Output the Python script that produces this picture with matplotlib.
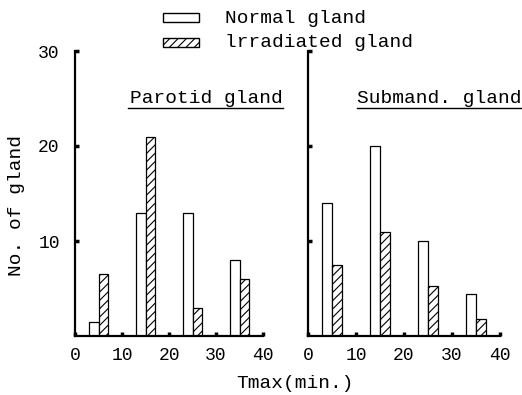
import matplotlib.pyplot as plt
from matplotlib.patches import Rectangle
from matplotlib.lines import Line2D

plt.rcParams['font.family'] = ['Liberation Mono', 'DejaVu Sans Mono']
plt.rcParams['hatch.linewidth'] = 0.8

# Tmax bins (min.)
tmax = [5, 15, 25, 35]
parotid_normal = [1.5, 13, 13, 8]
parotid_irr = [6.5, 21, 3, 6]
submand_normal = [14, 20, 10, 4.4]
submand_irr = [7.5, 11, 5.3, 1.8]

W, H = 522, 395
fig = plt.figure(figsize=(W / 100, H / 100), dpi=100)

def px(x, y):
    return x / W, 1 - y / H

bw = 2.1

def panel(left, width, normal, irr, ylabels):
    ax = fig.add_axes([left / W, 59 / H, width / W, 285 / H])
    ax.bar([t - bw for t in tmax], normal, width=bw, align='edge',
           color='white', edgecolor='black', linewidth=0.9)
    ax.bar(tmax, irr, width=bw, align='edge', color='white',
           edgecolor='black', hatch='////', linewidth=0.9)
    ax.set_xlim(0, 40)
    ax.set_ylim(0, 30)
    for s in ['top', 'right']:
        ax.spines[s].set_visible(False)
    for s in ['left', 'bottom']:
        ax.spines[s].set_linewidth(1.6)
    ax.set_xticks([0, 10, 20, 30, 40])
    ax.set_yticks([10, 20, 30])
    ax.tick_params(axis='both', direction='in', length=3, width=2.5, labelsize=13)
    ax.tick_params(axis='x', pad=8)
    ax.tick_params(axis='y', pad=11)
    if not ylabels:
        ax.set_yticklabels([])
    return ax

panel(75, 188, parotid_normal, parotid_irr, True)
panel(308, 192, submand_normal, submand_irr, False)

# panel titles, underlined
fig.text(*px(206, 103), 'Parotid gland', ha='center', va='baseline', fontsize=14)
fig.add_artist(Line2D([128 / W, 283 / W], [1 - 108 / H] * 2, color='black', lw=1))
fig.text(*px(357, 103), 'Submand. gland', ha='left', va='baseline', fontsize=14)
fig.add_artist(Line2D([357 / W, 522 / W], [1 - 108 / H] * 2, color='black', lw=1))

# legend
fig.add_artist(Rectangle(px(163, 22), 36 / W, 9 / H, transform=fig.transFigure,
                         facecolor='white', edgecolor='black', lw=1))
fig.add_artist(Rectangle(px(163, 47), 36 / W, 9 / H, transform=fig.transFigure,
                         facecolor='white', edgecolor='black', lw=1, hatch='////'))
fig.text(*px(225, 23), 'Normal gland', ha='left', va='baseline', fontsize=14)
fig.text(*px(225, 47), 'lrradiated gland', ha='left', va='baseline', fontsize=14)

# axis labels
fig.text(*px(17, 205), 'No. of gland', rotation=90, ha='center', va='center', fontsize=14)
fig.text(*px(295, 383), 'Tmax(min.)', ha='center', va='center', fontsize=14)

fig.savefig('out.png', dpi=100)
